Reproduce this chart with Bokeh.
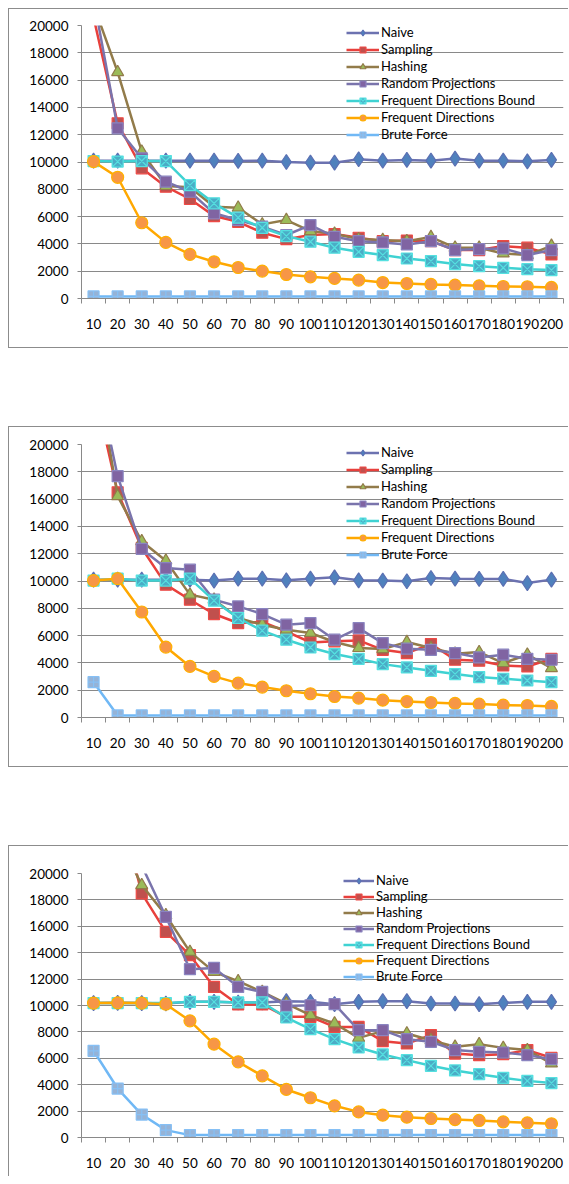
import numpy as np
from bokeh.plotting import figure
from bokeh.models import FixedTicker, Legend, LegendItem, Spacer
from bokeh.layouts import column, row
from bokeh.embed import file_html
from bokeh.resources import INLINE

# ---------------- data ----------------
categories = ["10", "20", "30", "40", "50", "60", "70", "80", "90", "100",
              "110", "120", "130", "140", "150", "160", "170", "180", "190", "200"]
y_ticks = [0, 2000, 4000, 6000, 8000, 10000, 12000, 14000, 16000, 18000, 20000]
series_names = ["Naive", "Sampling", "Hashing", "Random Projections",
                "Frequent Directions Bound", "Frequent Directions", "Brute Force"]

# chart 1
c1_naive = [10100, 10100, 10100, 10100, 10100, 10100, 10080, 10100, 10000, 9950,
            9950, 10200, 10100, 10150, 10100, 10250, 10100, 10100, 10050, 10150]
c1_sampling = [20600, 12840, 9540, 8190, 7290, 6040, 5620, 4820, 4350, 4650,
               4720, 4450, 4200, 4250, 4200, 3550, 3550, 3840, 3720, 3230]
c1_hashing = [21500, 16580, 10760, 8240, 8150, 6720, 6650, 5430, 5750, 4940,
              4740, 4350, 4280, 4200, 4500, 3720, 3720, 3300, 3180, 3860]
c1_randproj = [22000, 12470, 10270, 8560, 7820, 6240, 5750, 5260, 4650, 5380,
               4520, 4200, 4110, 3960, 4200, 3550, 3620, 3670, 3180, 3550]
c1_fdbound = [10070, 10030, 10070, 10070, 8310, 6970, 5920, 5180, 4570, 4160,
              3720, 3420, 3180, 2930, 2740, 2520, 2370, 2250, 2150, 2080]
c1_fd = [10030, 8880, 5550, 4110, 3230, 2690, 2270, 2010, 1760, 1590,
         1470, 1350, 1170, 1100, 1030, 980, 930, 880, 860, 810]
c1_brute = [150, 150, 150, 150, 150, 150, 150, 150, 150, 150,
            150, 150, 150, 150, 150, 150, 150, 150, 150, 150]

# chart 2
c2_naive = [10100, 10100, 10100, 10100, 10100, 10030, 10170, 10170, 10050, 10170,
            10270, 10050, 10030, 9980, 10220, 10170, 10150, 10150, 9850, 10100]
c2_sampling = [24300, 16500, 12420, 9730, 8630, 7580, 6920, 7000, 6300, 5500,
               5580, 5650, 4960, 4720, 5380, 4230, 4160, 3810, 3740, 4300]
c2_hashing = [26700, 16210, 12910, 11490, 9000, 8630, 7290, 6800, 6430, 6190,
              5530, 5090, 5010, 5530, 5090, 4670, 4790, 3990, 4600, 3620]
c2_randproj = [26000, 17680, 12350, 10950, 10830, 8630, 8140, 7580, 6800, 6920,
               5700, 6550, 5450, 5040, 4960, 4720, 4400, 4600, 4300, 4230]
c2_fdbound = [10030, 10170, 10030, 10030, 10170, 8560, 7290, 6360, 5700, 5130,
              4650, 4300, 3910, 3670, 3420, 3180, 2960, 2840, 2710, 2590]
c2_fd = [10030, 10170, 7730, 5160, 3740, 3010, 2520, 2230, 1960, 1740,
         1540, 1420, 1270, 1170, 1100, 1030, 980, 910, 880, 810]
c2_brute = [2590, 150, 150, 150, 150, 150, 150, 150, 150, 150,
            150, 150, 150, 150, 150, 150, 150, 150, 150, 150]

# chart 3
c3_naive = [10180, 10200, 10180, 10150, 10280, 10280, 10230, 10230, 10330, 10280,
            10100, 10280, 10330, 10330, 10150, 10150, 10100, 10200, 10280, 10280]
c3_sampling = [35000, 25700, 18490, 15580, 13810, 11410, 10080, 10080, 9140, 9140,
               8380, 8380, 7300, 7120, 7750, 6360, 6240, 6310, 6620, 6040]
c3_hashing = [35000, 22800, 19120, 16840, 14060, 12550, 11840, 11030, 10150, 9270,
              8640, 7550, 8060, 7880, 7370, 6870, 7070, 6790, 6620, 5610]
c3_randproj = [36000, 30000, 20600, 16720, 12750, 12850, 11410, 11030, 9970, 10020,
               10100, 8130, 8130, 7450, 7250, 6620, 6490, 6440, 6240, 5930]
c3_fdbound = [10180, 10180, 10180, 10180, 10280, 10280, 10230, 10230, 9090, 8210,
              7450, 6820, 6290, 5860, 5430, 5080, 4800, 4520, 4290, 4120]
c3_fd = [10180, 10200, 10180, 10100, 8840, 7070, 5730, 4670, 3640, 3010,
         2400, 1940, 1690, 1540, 1440, 1360, 1290, 1190, 1110, 1040]
c3_brute = [6570, 3710, 1740, 560, 180, 180, 180, 180, 180, 180,
            180, 180, 180, 180, 180, 180, 180, 180, 180, 180]

# ---------------- styling ----------------
FONT = "Lato"
GRID = "#898989"
STYLES = [
    # line color, marker, fill, marker line, size
    ("#6C72B0", "diamond", "#4F81BD", "#5B70B3", 15),
    ("#E8403C", "square", "#C0504D", "#EE4A46", 11),
    ("#927B4A", "triangle", "#9BBB59", "#927B4A", 12),
    ("#7A74AC", "square", "#8064A2", "#8A84C0", 11),
    ("#3FD2D2", "square_x", "#4BACC6", "#55E0E0", 11),
    ("#FFA800", "circle", "#F79646", "#FFB000", 12),
    ("#70B8F5", "square_cross", "#95B3D7", "#86C0F5", 11),
]


def make_chart(data, height, border_top, border_bottom, legend_xy,
               legend_spacing, legend_glyph_w, borders):
    xs = list(np.arange(len(categories)) + 0.5)
    p = figure(width=560, height=height, output_backend="svg",
               toolbar_location=None, x_range=(0, len(categories)),
               y_range=(0, 20000), min_border_left=72, min_border_right=6,
               min_border_top=border_top, min_border_bottom=border_bottom)
    p.styles = borders
    p.outline_line_color = None
    p.background_fill_color = "white"
    p.border_fill_color = "white"

    p.xgrid.visible = False
    p.ygrid.ticker = FixedTicker(ticks=y_ticks)
    p.ygrid.grid_line_color = GRID
    p.ygrid.grid_line_width = 1

    xa = p.xaxis[0]
    xa.ticker = FixedTicker(ticks=xs, minor_ticks=list(range(len(categories) + 1)))
    xa.major_label_overrides = {x: c for x, c in zip(xs, categories)}
    xa.major_tick_out = 0
    xa.major_tick_in = 0
    xa.minor_tick_out = 5
    xa.minor_tick_in = 0
    xa.minor_tick_line_color = GRID
    xa.axis_line_color = GRID
    xa.major_label_standoff = 15
    xa.major_label_text_font = FONT
    xa.major_label_text_font_size = "13.5px"
    xa.major_label_text_color = "black"

    ya = p.yaxis[0]
    ya.ticker = FixedTicker(ticks=y_ticks)
    ya.major_tick_out = 4
    ya.major_tick_in = 0
    ya.minor_tick_out = 0
    ya.minor_tick_in = 0
    ya.major_tick_line_color = GRID
    ya.axis_line_color = GRID
    ya.major_label_standoff = 9
    ya.major_label_text_font = FONT
    ya.major_label_text_font_size = "13.5px"
    ya.major_label_text_color = "black"

    items = []
    for name, vals, st in zip(series_names, data, STYLES):
        lc, mk, fc, mlc, sz = st
        r1 = p.line(xs, vals, line_color=lc, line_width=2.5)
        r2 = p.scatter(xs, vals, marker=mk, size=sz, fill_color=fc,
                       line_color=mlc, line_width=1.2)
        items.append(LegendItem(label=name, renderers=[r1, r2]))

    legend = Legend(items=items, location=legend_xy, border_line_color=None,
                    background_fill_alpha=0, padding=0, margin=0,
                    spacing=legend_spacing, glyph_height=15, label_height=15,
                    glyph_width=legend_glyph_w, label_standoff=2,
                    label_text_font=FONT, label_text_font_size="13px",
                    label_text_color="black")
    p.add_layout(legend, "center")
    return p


bd = "1px solid #8c8c8c"
p1 = make_chart([c1_naive, c1_sampling, c1_hashing, c1_randproj, c1_fdbound, c1_fd, c1_brute],
                340, 16, 51, (265, 156), 1, 33,
                {"border-left": bd, "border-top": bd, "border-bottom": bd})
p2 = make_chart([c2_naive, c2_sampling, c2_hashing, c2_randproj, c2_fdbound, c2_fd, c2_brute],
                341, 17, 51, (265, 155), 1, 33,
                {"border-left": bd, "border-top": bd, "border-bottom": bd})
p3 = make_chart([c3_naive, c3_sampling, c3_hashing, c3_randproj, c3_fdbound, c3_fd, c3_brute],
                331, 27, 40, (262, 153), 0, 31,
                {"border-left": bd, "border-top": bd})

charts = column(p1, Spacer(height=78, width=10), p2, Spacer(height=78, width=10), p3)
layout = column(Spacer(height=8, width=8), row(Spacer(width=8, height=8), charts))

open("out.html", "w").write(file_html(layout, INLINE))
